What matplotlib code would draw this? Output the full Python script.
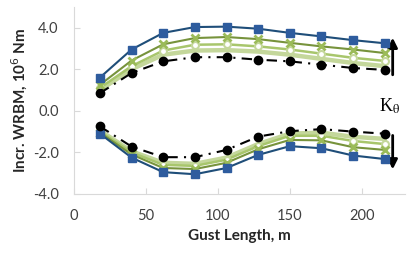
import matplotlib.pyplot as plt

# Gust lengths (m)
gust = [18, 40, 62, 84, 106, 128, 150, 172, 194, 216]

# Upper envelope (positive increments), 10^6 Nm
blue_up = [1.6, 2.95, 3.75, 4.03, 4.05, 3.95, 3.75, 3.58, 3.4, 3.25]
xgrn_up = [1.25, 2.42, 3.2, 3.5, 3.55, 3.45, 3.27, 3.1, 2.95, 2.78]
circ_up = [1.1, 2.15, 2.9, 3.18, 3.2, 3.1, 2.95, 2.75, 2.55, 2.4]
pale_up = [1.0, 2.0, 2.7, 2.9, 2.92, 2.85, 2.7, 2.5, 2.3, 2.15]
black_up = [0.85, 1.82, 2.38, 2.58, 2.58, 2.46, 2.38, 2.22, 2.06, 1.97]

# Lower envelope (negative increments)
blue_lo = [-1.1, -2.25, -2.95, -3.05, -2.75, -2.12, -1.7, -1.8, -2.15, -2.32]
xgrn_lo = [-1.05, -2.1, -2.75, -2.8, -2.5, -1.85, -1.4, -1.42, -1.75, -1.88]
circ_lo = [-1.0, -2.0, -2.6, -2.65, -2.35, -1.7, -1.2, -1.2, -1.45, -1.6]
pale_lo = [-0.95, -1.95, -2.5, -2.55, -2.25, -1.6, -1.1, -1.05, -1.25, -1.35]
black_lo = [-0.75, -1.72, -2.23, -2.23, -1.88, -1.24, -0.98, -0.88, -1.0, -1.1]

plt.rcParams['font.family'] = ['Lato', 'DejaVu Sans']

fig = plt.figure(figsize=(4.09, 2.65), dpi=100)
ax = fig.add_axes([0.181, 0.268, 0.809, 0.706])

for pale, circ, xg, bl, blk in [(pale_up, circ_up, xgrn_up, blue_up, black_up),
                                (pale_lo, circ_lo, xgrn_lo, blue_lo, black_lo)]:
    ax.plot(gust, pale, color="#C4D79B", lw=3.2, zorder=2)
    ax.plot(gust, circ, color="#A8C66C", lw=1.8, marker="o", markersize=5,
            markerfacecolor="white", markeredgecolor="#C4D79B", markeredgewidth=1.5, zorder=3)
    ax.plot(gust, xg, color="#77933C", lw=1.5, marker="x", markersize=6,
            markeredgecolor="#9BBB59", markeredgewidth=2, zorder=4)
    ax.plot(gust, bl, color="#1F4E79", lw=1.5, marker="s", markersize=6,
            markerfacecolor="#2E5C9E", markeredgecolor="#2E5C9E", zorder=5)
    ax.plot(gust, blk, color="black", lw=1.5, ls=(0, (5, 3, 1, 3)), marker="o",
            markersize=6, zorder=6)

ax.set_xlim(0, 230)
ax.set_ylim(-4, 5)
ax.set_xticks([0, 50, 100, 150, 200])
ax.set_yticks([-4, -2, 0, 2, 4])
ax.set_yticklabels(["-4.0", "-2.0", "0.0", "2.0", "4.0"])

for s in ["top", "right"]:
    ax.spines[s].set_visible(False)
for s in ["left", "bottom"]:
    ax.spines[s].set_color("#D9D9D9")
ax.tick_params(direction="in", color="#D9D9D9", length=4, pad=11,
               labelsize=10.5, labelcolor="#404040")

ax.set_xlabel("Gust Length, m", fontweight="bold", fontsize=11, color="#262626", labelpad=4)
ax.set_ylabel("Incr. WRBM, 10$^{6}$ Nm", fontweight="bold", fontsize=11, color="#262626", labelpad=2)

# K_theta arrows
ax.annotate("", xy=(221.5, 3.65), xytext=(221.5, 1.6),
            arrowprops=dict(arrowstyle="-|>", color="black", lw=2, mutation_scale=14),
            annotation_clip=False)
ax.annotate("", xy=(221.5, -2.95), xytext=(221.5, -1.05),
            arrowprops=dict(arrowstyle="-|>", color="black", lw=2, mutation_scale=14),
            annotation_clip=False)
plt.rcParams['mathtext.fontset'] = 'stix'
ax.text(219.5, 0.2, r"K$_\mathrm{\theta}$", family="Liberation Serif", fontsize=13,
        ha="center", va="center", clip_on=False)

fig.savefig("out.png", dpi=100)
